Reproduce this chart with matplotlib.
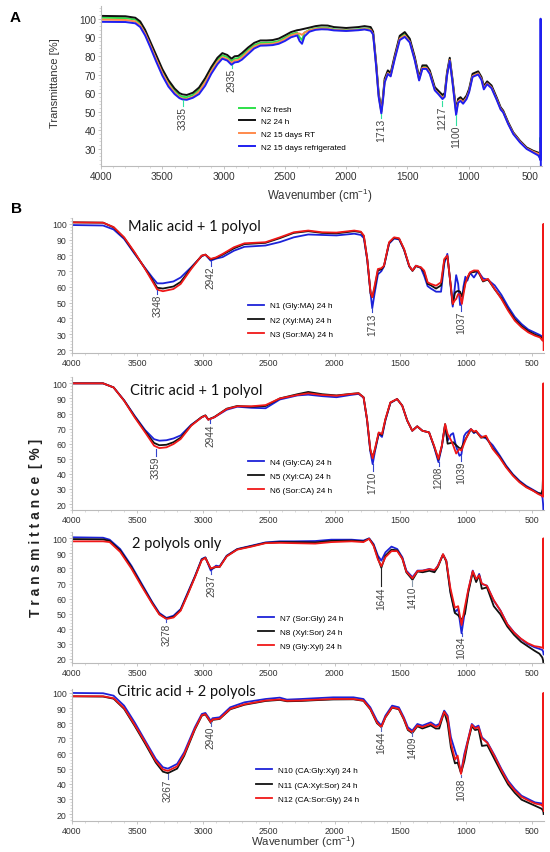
import matplotlib
matplotlib.use('Agg')
import matplotlib.pyplot as plt
from matplotlib.ticker import MultipleLocator

plt.rcParams['font.family'] = ['Liberation Sans', 'DejaVu Sans']
plt.rcParams['mathtext.default'] = 'regular'

# ---------------- panel A : N2 over time ----------------
wn_a = [4000, 3800, 3720, 3680, 3640, 3600, 3550, 3500, 3450, 3400,
        3360, 3335, 3300, 3250, 3200, 3150, 3100, 3050, 3010, 2970,
        2935, 2910, 2880, 2850, 2800, 2750, 2700, 2650, 2600, 2550,
        2500, 2450, 2400, 2380, 2360, 2340, 2300, 2250, 2200, 2150,
        2100, 2000, 1900, 1850, 1800, 1780, 1755, 1735, 1713, 1700,
        1686, 1660, 1637, 1604, 1563, 1522, 1481, 1440, 1405, 1378,
        1345, 1318, 1277, 1250, 1214, 1196, 1177, 1155, 1133, 1103,
        1087, 1067, 1046, 1018, 997, 969, 923, 896, 877, 850,
        814, 773, 740, 719, 678, 637, 582, 528, 474, 433,
        420, 416, 414, 412]
a_fresh = [100.5, 100.3, 99.5, 97.5, 93.0, 87.0, 79.3, 71.8, 65.8, 61.3,
           58.8, 58.0, 57.8, 59.0, 61.8, 66.8, 72.8, 77.8, 80.3, 79.3,
           77.2, 78.5, 78.8, 80.2, 83.3, 85.8, 87.0, 87.1, 87.3, 88.0,
           89.8, 91.6, 92.6, 90.0, 88.5, 92.5, 94.0, 94.8, 95.2, 95.1,
           94.3, 93.8, 94.3, 94.8, 94.3, 92.0, 75.0, 59.0, 50.0, 57.0,
           66.7, 71.2, 69.8, 79.2, 89.8, 91.7, 88.2, 78.4, 67.7, 74.0,
           74.0, 71.3, 62.3, 60.5, 58.0, 59.0, 70.4, 78.2, 66.8, 49.8,
           55.9, 56.9, 55.3, 57.8, 61.4, 69.5, 70.9, 67.8, 63.0, 65.5,
           63.3, 57.1, 51.8, 50.0, 43.8, 38.5, 34.0, 30.4, 28.6, 27.5,
           27.0, 36.0, 27.0, 26.5]
a_24h = [101.5, 101.3, 100.5, 98.5, 94.0, 88.0, 80.5, 73.0, 67.0, 62.5,
         60.0, 59.3, 59.0, 60.2, 63.0, 68.0, 74.0, 79.0, 81.5, 80.5,
         78.5, 79.8, 80.0, 81.5, 84.5, 87.0, 88.3, 88.3, 88.5, 89.3,
         91.0, 92.8, 93.8, 94.0, 94.3, 94.6, 95.2, 96.0, 96.4, 96.3,
         95.5, 95.0, 95.5, 96.0, 95.5, 93.0, 76.0, 60.0, 51.0, 58.0,
         67.7, 72.2, 70.8, 80.2, 90.8, 92.8, 89.2, 79.4, 68.6, 74.9,
         74.9, 72.2, 63.2, 61.4, 59.0, 60.0, 71.3, 79.0, 67.7, 50.8,
         56.9, 57.8, 56.2, 58.7, 62.3, 70.4, 71.7, 68.6, 63.8, 66.3,
         64.1, 57.8, 52.4, 50.6, 44.3, 38.9, 34.4, 30.8, 29.0, 28.0,
         27.5, 28.0, 27.5, 27.0]
a_rt = [99.5, 99.3, 98.5, 96.5, 92.0, 86.0, 78.3, 70.8, 64.8, 60.3,
        57.8, 57.0, 56.8, 58.0, 60.8, 65.8, 71.8, 76.8, 79.3, 78.3,
        76.2, 77.5, 77.8, 79.2, 82.3, 85.0, 86.2, 86.3, 86.5, 87.3,
        89.0, 91.0, 92.0, 92.0, 91.3, 92.5, 93.7, 94.5, 94.8, 94.7,
        94.0, 93.6, 94.0, 94.5, 94.0, 91.8, 74.8, 58.8, 49.8, 56.8,
        66.3, 70.8, 69.4, 78.8, 89.3, 91.0, 87.6, 78.0, 67.3, 73.6,
        73.6, 70.9, 61.8, 60.0, 57.5, 58.6, 70.0, 77.8, 66.5, 49.3,
        55.5, 56.5, 55.0, 57.5, 61.0, 69.2, 70.6, 67.5, 62.7, 65.2,
        63.0, 56.9, 51.6, 49.9, 43.6, 38.4, 33.9, 30.3, 28.5, 27.4,
        27.0, 33.0, 26.8, 26.3]
a_fridge = [98.3, 98.2, 97.5, 95.5, 91.0, 85.0, 77.0, 69.5, 63.5, 59.5,
            57.3, 56.6, 56.4, 57.5, 59.5, 64.0, 70.4, 75.5, 78.5, 77.5,
            75.2, 76.5, 76.8, 78.0, 81.0, 84.0, 85.5, 85.6, 85.8, 86.5,
            88.0, 90.0, 91.0, 88.0, 86.5, 90.5, 93.0, 94.0, 94.3, 94.2,
            93.7, 93.4, 93.8, 94.2, 93.5, 91.5, 74.0, 58.0, 49.0, 56.0,
            65.7, 70.3, 69.0, 78.2, 88.5, 90.2, 87.2, 77.5, 66.8, 73.0,
            73.0, 70.3, 61.5, 59.6, 56.8, 58.0, 69.5, 77.3, 66.0, 48.2,
            54.8, 55.8, 54.3, 56.8, 60.5, 68.7, 70.0, 67.0, 62.0, 64.8,
            62.6, 56.5, 51.2, 49.6, 43.3, 38.0, 33.5, 30.0, 28.0, 26.5,
            25.0, 24.0, 100.0, 20.0]
labels_a = ['N2 fresh', 'N2 24 h', 'N2 15 days RT', 'N2 15 days refrigerated']
peaks_a = [3335, 2935, 1713, 1217, 1100]
peak_top_a = [56.5, 75.0, 48.8, 56.0, 48.0]
peak_txt_a = [53.3, 73.5, 46.5, 53.3, 43.0]

# ---------------- panel B1 : malic acid + 1 polyol ----------------
wn_b1 = [4000, 3760, 3680, 3600, 3520, 3440, 3385, 3348, 3305, 3225,
         3170, 3090, 3010, 2982, 2942, 2900, 2850, 2765, 2685, 2525,
         2415, 2310, 2200, 2095, 1985, 1850, 1800, 1777, 1751, 1726,
         1713, 1695, 1670, 1644, 1624, 1585, 1547, 1509, 1471, 1432,
         1407, 1381, 1343, 1318, 1292, 1267, 1228, 1190, 1165, 1142,
         1119, 1101, 1085, 1075, 1060, 1045, 1032, 1020, 1005, 990,
         970, 940, 909, 871, 833, 782, 731, 680, 629, 578,
         527, 476, 438, 418, 414, 412, 410]
b1_n1 = [99.3, 99.0, 96.5, 90.5, 81.0, 72.0, 66.0, 62.3, 62.3, 63.5,
         66.0, 72.5, 79.5, 80.5, 76.7, 78.0, 79.0, 83.0, 85.5, 86.3,
         88.5, 91.5, 93.3, 93.0, 92.7, 93.8, 93.0, 91.0, 77.0, 56.0,
         46.5, 56.0, 68.0, 70.0, 73.0, 87.5, 90.7, 90.2, 83.5, 73.0,
         70.4, 73.5, 72.0, 67.0, 60.5, 59.0, 57.0, 57.0, 75.0, 81.0,
         62.0, 47.5, 60.0, 67.5, 62.0, 48.5, 50.0, 60.0, 66.5, 64.0,
         69.0, 66.0, 70.0, 65.5, 64.5, 61.0, 55.0, 47.5, 41.0, 36.5,
         33.0, 31.0, 29.5, 28.5, 28.5, 28.0, 27.5]
b1_n2 = [101.0, 100.8, 97.8, 91.2, 81.6, 71.6, 64.5, 59.5, 59.0, 60.3,
         63.2, 72.0, 79.8, 80.5, 77.5, 78.5, 80.5, 84.5, 87.2, 88.0,
         91.0, 94.3, 95.4, 94.3, 94.0, 95.4, 94.8, 92.2, 77.5, 56.0,
         53.5, 59.5, 70.5, 71.2, 73.2, 88.0, 91.2, 90.6, 83.8, 73.2,
         70.2, 73.2, 72.3, 69.5, 62.0, 61.0, 59.0, 61.0, 77.0, 79.5,
         63.0, 49.0, 56.0, 57.0, 57.5, 57.0, 54.0, 57.0, 63.0, 65.5,
         69.0, 69.5, 70.0, 63.5, 64.8, 58.5, 53.0, 45.8, 39.5, 35.2,
         32.0, 29.8, 28.5, 27.5, 28.0, 27.5, 26.0]
b1_n3 = [101.0, 100.8, 98.0, 91.5, 82.0, 71.4, 63.6, 58.3, 57.3, 58.7,
         61.9, 71.4, 79.9, 80.5, 77.8, 78.8, 81.0, 85.2, 87.7, 88.4,
         91.5, 94.7, 95.8, 94.7, 94.5, 95.8, 95.1, 92.6, 77.8, 56.6,
         53.5, 60.8, 71.4, 71.9, 73.5, 88.4, 91.5, 90.9, 84.1, 73.5,
         70.4, 73.5, 72.5, 70.4, 63.0, 61.9, 60.8, 63.0, 77.8, 79.9,
         63.0, 49.2, 51.5, 52.4, 55.5, 55.0, 49.2, 55.0, 62.0, 66.0,
         69.3, 70.5, 70.4, 64.0, 65.1, 58.7, 52.4, 45.0, 38.6, 34.4,
         31.2, 29.1, 28.0, 26.0, 27.0, 100.0, 20.0]
labels_b1 = ['N1 (Gly:MA) 24 h', 'N2 (Xyl:MA) 24 h', 'N3 (Sor:MA) 24 h']
peaks_b1 = [3348, 2942, 1713, 1037]
peak_top_b1 = [58.0, 76.7, 46.5, 48.5]
peak_txt_b1 = [55.6, 73.5, 44.0, 45.0]

# ---------------- panel B2 : citric acid + 1 polyol ----------------
wn_b2 = [4000, 3760, 3680, 3600, 3520, 3440, 3372, 3332, 3278, 3224,
         3170, 3090, 3010, 2982, 2960, 2914, 2820, 2740, 2632, 2524,
         2416, 2282, 2200, 2093, 1985, 1878, 1817, 1779, 1753, 1728,
         1710, 1690, 1664, 1639, 1613, 1575, 1524, 1485, 1447, 1409,
         1371, 1332, 1281, 1243, 1210, 1184, 1159, 1140, 1115, 1098,
         1075, 1050, 1035, 1015, 1001, 963, 940, 924, 886, 848,
         797, 746, 695, 644, 593, 542, 491, 452, 426, 418,
         414, 412, 410]
b2_n4 = [100.0, 100.0, 97.3, 88.8, 78.5, 69.0, 63.0, 62.0, 62.3, 63.5,
         65.5, 72.5, 77.5, 78.6, 76.0, 77.5, 82.5, 84.5, 83.8, 83.5,
         89.3, 92.0, 92.5, 91.5, 90.8, 92.3, 93.0, 90.5, 76.0, 55.0,
         46.5, 56.0, 66.5, 64.5, 75.5, 87.0, 89.6, 85.2, 75.3, 68.6,
         71.5, 68.6, 67.5, 58.0, 47.8, 58.0, 72.5, 62.0, 66.0, 67.0,
         58.0, 52.0, 53.0, 65.0, 67.0, 69.7, 67.0, 68.0, 65.0, 63.5,
         59.0, 52.5, 45.5, 39.8, 35.4, 32.0, 29.5, 27.5, 26.5, 24.0,
         20.0, 16.0, 15.0]
b2_n5 = [100.0, 100.0, 97.3, 88.6, 78.0, 68.2, 60.5, 59.0, 59.3, 61.0,
         64.0, 72.2, 77.7, 78.8, 76.0, 77.7, 83.2, 85.0, 84.5, 85.0,
         90.0, 92.8, 94.3, 92.8, 92.0, 93.0, 93.5, 90.8, 76.2, 55.8,
         51.0, 57.0, 67.0, 65.8, 76.0, 87.2, 89.6, 85.2, 75.3, 68.6,
         71.5, 68.6, 67.5, 58.3, 49.5, 58.5, 73.0, 60.0, 60.5, 61.0,
         59.0, 57.0, 57.0, 61.0, 63.5, 69.5, 67.5, 68.3, 64.0, 64.5,
         57.0, 51.5, 44.8, 39.3, 34.8, 31.5, 29.0, 27.2, 27.0, 30.0,
         40.0, 28.0, 27.0]
b2_n6 = [100.0, 100.0, 97.3, 88.5, 77.5, 67.5, 58.7, 57.1, 57.6, 59.8,
         63.1, 71.9, 77.5, 78.6, 75.9, 77.5, 83.0, 84.8, 84.8, 85.6,
         90.0, 92.3, 93.4, 92.3, 91.8, 92.9, 93.4, 90.7, 76.4, 56.5,
         50.3, 57.6, 67.5, 66.4, 76.4, 87.4, 89.6, 85.2, 75.3, 68.6,
         71.5, 68.6, 67.5, 58.7, 49.9, 58.7, 73.0, 66.5, 62.5, 59.0,
         53.5, 56.5, 55.4, 60.0, 63.1, 69.7, 68.0, 68.6, 64.2, 65.3,
         56.5, 51.0, 44.3, 38.8, 34.4, 31.1, 28.9, 26.7, 25.6, 25.0,
         25.5, 100.0, 25.0]
labels_b2 = ['N4 (Gly:CA) 24 h', 'N5 (Xyl:CA) 24 h', 'N6 (Sor:CA) 24 h']
peaks_b2 = [3359, 2944, 1710, 1208, 1039]
peak_top_b2 = [56.5, 76.0, 46.5, 48.0, 52.5]
peak_txt_b2 = [52.0, 73.7, 42.0, 45.4, 48.7]

# ---------------- panel B3 : 2 polyols only ----------------
wn_b3 = [4000, 3760, 3710, 3630, 3545, 3465, 3385, 3332, 3278, 3224,
         3170, 3115, 3060, 3010, 2982, 2941, 2901, 2874, 2820, 2740,
         2632, 2524, 2416, 2308, 2147, 2025, 1870, 1780, 1737, 1703,
         1670, 1644, 1613, 1567, 1523, 1484, 1454, 1407, 1369, 1330,
         1279, 1240, 1214, 1175, 1150, 1119, 1085, 1060, 1034, 1008,
         983, 949, 923, 900, 880, 841, 789, 738, 686, 635,
         583, 532, 480, 442, 420, 414, 412, 410]
b3_n7 = [100.7, 100.4, 99.1, 92.9, 81.9, 69.7, 57.6, 50.5, 47.2, 48.7,
         53.1, 64.2, 75.2, 86.3, 87.4, 78.6, 81.9, 81.4, 88.5, 92.9,
         95.1, 97.3, 98.0, 98.0, 98.2, 99.1, 99.1, 98.5, 100.0, 96.2,
         88.5, 85.2, 90.7, 94.5, 92.9, 87.4, 78.6, 74.2, 78.6, 78.6,
         79.7, 78.6, 81.9, 89.2, 85.2, 65.3, 51.0, 53.2, 37.0, 52.1,
         65.3, 78.6, 72.0, 76.4, 69.7, 68.6, 58.7, 52.1, 43.2, 37.7,
         33.3, 30.0, 27.8, 26.7, 26.0, 25.0, 24.0, 23.0]
b3_n8 = [99.5, 99.3, 98.3, 92.0, 81.0, 68.8, 57.0, 49.8, 46.8, 48.0,
         52.5, 63.5, 74.8, 85.8, 87.2, 79.8, 81.0, 81.0, 88.2, 92.7,
         94.8, 97.0, 97.5, 97.5, 97.3, 98.3, 98.5, 98.0, 99.8, 95.5,
         86.8, 80.5, 88.5, 92.5, 92.0, 86.5, 77.5, 72.5, 78.0, 77.5,
         78.5, 77.5, 81.0, 89.3, 84.5, 64.0, 50.5, 49.0, 46.0, 50.0,
         64.0, 77.5, 71.0, 75.5, 66.5, 67.5, 55.0, 49.5, 41.5, 36.0,
         31.5, 28.5, 25.5, 23.5, 21.0, 19.0, 17.0, 16.0]
b3_n9 = [98.0, 98.0, 97.5, 91.0, 80.0, 68.0, 56.5, 49.5, 46.5, 47.5,
         52.0, 63.0, 74.5, 85.5, 87.0, 80.0, 81.2, 81.0, 88.0, 92.5,
         94.5, 96.8, 97.0, 96.8, 96.5, 97.5, 98.0, 97.5, 99.7, 95.0,
         86.0, 81.5, 87.5, 91.5, 91.5, 86.5, 78.0, 73.5, 78.3, 78.5,
         79.5, 79.0, 81.5, 89.5, 85.0, 67.0, 54.0, 55.0, 42.5, 55.0,
         66.0, 78.3, 73.0, 75.5, 70.0, 68.5, 59.0, 52.0, 43.0, 37.5,
         33.5, 30.5, 28.5, 28.0, 27.5, 28.0, 100.0, 27.0]
labels_b3 = ['N7 (Sor:Gly) 24 h', 'N8 (Xyl:Sor) 24 h', 'N9 (Gly:Xyl) 24 h']
peaks_b3 = [3278, 2937, 1644, 1410, 1034]
peak_top_b3 = [46.5, 78.6, 81.0, 72.5, 37.0]
peak_txt_b3 = [44.3, 76.4, 68.2, 68.6, 35.5]

# ---------------- panel B4 : citric acid + 2 polyols ----------------
wn_b4 = [4000, 3760, 3680, 3600, 3520, 3440, 3359, 3305, 3267, 3197,
         3143, 3062, 3009, 2982, 2955, 2940, 2928, 2874, 2793, 2685,
         2524, 2416, 2362, 2255, 2147, 2010, 1856, 1780, 1728, 1677,
         1644, 1613, 1562, 1511, 1473, 1442, 1409, 1370, 1332, 1268,
         1230, 1204, 1166, 1140, 1115, 1084, 1064, 1038, 1013, 987,
         956, 931, 905, 879, 838, 782, 731, 680, 629, 578,
         527, 476, 425, 416, 412, 410]
b4_n10 = [100.0, 99.8, 98.2, 91.6, 80.6, 68.5, 56.4, 50.9, 50.0, 53.1,
          60.8, 77.3, 86.1, 86.8, 83.5, 81.5, 83.3, 83.9, 90.5, 93.8,
          96.0, 96.9, 95.6, 96.0, 96.5, 97.1, 97.1, 96.0, 90.5, 81.7,
          78.4, 85.0, 91.6, 90.5, 83.9, 77.3, 75.1, 79.5, 78.4, 80.6,
          78.4, 79.5, 88.3, 85.0, 70.7, 61.9, 56.4, 47.5, 59.7, 68.5,
          79.5, 77.3, 78.4, 70.7, 67.4, 58.6, 49.8, 42.0, 36.5, 32.1,
          29.9, 27.7, 27.0, 26.0, 25.0, 22.0]
b4_n11 = [97.8, 97.6, 96.2, 89.5, 78.3, 66.5, 54.0, 48.0, 47.0, 50.0,
          58.5, 75.8, 85.0, 85.8, 82.2, 80.2, 82.2, 82.8, 89.2, 92.2,
          94.7, 95.4, 94.5, 94.7, 95.2, 95.7, 95.8, 94.8, 89.2, 80.0,
          77.5, 83.8, 90.3, 89.2, 82.5, 75.5, 73.5, 78.0, 76.5, 78.5,
          76.5, 76.5, 87.5, 80.0, 64.0, 53.5, 54.0, 47.0, 55.0, 67.0,
          78.0, 75.5, 76.0, 65.0, 65.5, 56.0, 47.5, 39.5, 34.0, 29.5,
          27.5, 25.5, 23.5, 22.5, 21.5, 20.0]
b4_n12 = [97.8, 97.8, 96.5, 90.0, 79.0, 67.5, 55.0, 49.5, 48.5, 51.5,
          59.5, 76.3, 85.3, 86.0, 82.5, 80.5, 82.5, 83.0, 89.5, 92.5,
          95.0, 95.7, 94.8, 95.0, 95.5, 96.0, 96.0, 95.0, 89.5, 80.5,
          77.5, 84.0, 90.5, 89.5, 83.0, 76.0, 74.0, 78.5, 77.5, 79.5,
          77.5, 78.5, 87.5, 84.0, 67.0, 56.0, 58.6, 46.5, 58.0, 68.0,
          79.0, 76.5, 77.5, 70.0, 67.0, 58.0, 49.0, 41.0, 35.5, 31.3,
          29.0, 27.0, 26.0, 25.0, 100.0, 22.0]
labels_b4 = ['N10 (CA:Gly:Xyl) 24 h', 'N11 (CA:Xyl:Sor) 24 h', 'N12 (CA:Sor:Gly) 24 h']
peaks_b4 = [3267, 2940, 1644, 1409, 1038]
peak_top_b4 = [46.5, 80.6, 77.3, 74.0, 45.8]
peak_txt_b4 = [43.1, 78.4, 75.0, 71.8, 44.2]

xticks = [4000, 3500, 3000, 2500, 2000, 1500, 1000, 500]
col_a = ['#2ee04a', '#111111', '#ff8a4c', '#1f1ff0']
col_b = ['#1c22d8', '#111111', '#f01818']


def style_axes(ax, xlim, ylim, yticks, tick_size):
    ax.set_xlim(*xlim)
    ax.set_ylim(*ylim)
    ax.set_xticks(xticks)
    ax.xaxis.set_minor_locator(MultipleLocator(100))
    ax.set_yticks(yticks)
    ax.yaxis.set_minor_locator(MultipleLocator(2))
    for s in ['top', 'right']:
        ax.spines[s].set_visible(False)
    for s in ['left', 'bottom']:
        ax.spines[s].set_color('#bbbbbb')
        ax.spines[s].set_linewidth(0.8)
    ax.tick_params(labelsize=tick_size, color='#bbbbbb', labelcolor='#333333',
                   length=2.0, width=0.6, pad=1.5)
    ax.tick_params(which='minor', color='#cccccc', length=1.2, width=0.5)


def mark_peaks(ax, wns, tops, bottoms, colors, size):
    for w, t, b, c in zip(wns, tops, bottoms, colors):
        ax.plot([w, w], [t, b], color=c, lw=0.8, zorder=4)
        ax.text(w, b, str(w), rotation=90, ha='center', va='top',
                fontsize=size, color='#444444', zorder=5)


fig = plt.figure(figsize=(5.5, 8.53), dpi=100)

# ---- A ----
ax_a = fig.add_axes([0.1836, 0.8046, 0.8013, 0.1876])
for ys, c, lab in zip([a_fresh, a_24h, a_rt, a_fridge], col_a, labels_a):
    ax_a.plot(wn_a, ys, color=c, lw=1.4, label=lab)
style_axes(ax_a, (4000, 405), (21, 107), range(30, 101, 10), 7.3)
mark_peaks(ax_a, peaks_a, peak_top_a, peak_txt_a, ['#30e0a0'] * 5, 7.5)
ax_a.legend(loc='upper left', bbox_to_anchor=(0.313, 0.38), frameon=False,
            fontsize=5.9, handlelength=2.0, handletextpad=0.7,
            labelspacing=0.6, borderpad=0, borderaxespad=0)
ax_a.set_ylabel('Transmittance [%]', fontsize=8, color='#333333')
ax_a.yaxis.set_label_coords(-0.092, 0.52)
ax_a.set_xlabel('Wavenumber (cm$^{-1}$)', fontsize=8.3, color='#333333')
ax_a.xaxis.set_label_coords(0.497, -0.125)

# ---- B panels ----
panels_b = [
    (0.5848, 0.1589, (18, 104), wn_b1, [b1_n1, b1_n2, b1_n3], labels_b1,
     peaks_b1, peak_top_b1, peak_txt_b1, ['#3344cc'] * 4,
     'Malic acid + 1 polyol', 3574, 98.5, (0.374, 0.38)),
    (0.4008, 0.1557, (16, 104), wn_b2, [b2_n4, b2_n5, b2_n6], labels_b2,
     peaks_b2, peak_top_b2, peak_txt_b2, ['#3344cc'] * 5,
     'Citric acid + 1 polyol', 3553, 95.8, (0.374, 0.394)),
    (0.2210, 0.1538, (17, 104), wn_b3, [b3_n7, b3_n8, b3_n9], labels_b3,
     peaks_b3, peak_top_b3, peak_txt_b3,
     ['#4455cc', '#4455cc', '#222222', '#8899aa', '#4455cc'],
     '2 polyols only', 3539, 96.7, (0.394, 0.377)),
    (0.0367, 0.1542, (15.6, 102.5), wn_b4, [b4_n10, b4_n11, b4_n12], labels_b4,
     peaks_b4, peak_top_b4, peak_txt_b4, ['#5566bb'] * 5,
     'Citric acid + 2 polyols', 3655, 101.5, (0.391, 0.412)),
]

axes_b = []
for (bottom, height, ylim, wn, series, labs, pk, pk_top, pk_txt, pk_col,
     title, tx, ty, leg_pos) in panels_b:
    ax = fig.add_axes([0.13, bottom, 0.8584, height])
    for ys, c, lab in zip(series, col_b, labs):
        ax.plot(wn, ys, color=c, lw=1.3, label=lab)
    style_axes(ax, (4000, 410), ylim, range(20, 101, 10), 6.3)
    mark_peaks(ax, pk, pk_top, pk_txt, pk_col, 7.2)
    ax.text(tx, ty, title, fontsize=10.5, ha='left', va='center',
            color='#111111', family=['Lato', 'DejaVu Sans'])
    ax.legend(loc='upper left', bbox_to_anchor=leg_pos, frameon=False,
              fontsize=5.9, handlelength=2.0, handletextpad=0.7,
              labelspacing=0.8, borderpad=0, borderaxespad=0)
    axes_b.append(ax)

axes_b[-1].set_xlabel('Wavenumber (cm$^{-1}$)', fontsize=8.2, color='#333333')
axes_b[-1].xaxis.set_label_coords(0.49, -0.098)

fig.text(10 / 550, 1 - 18 / 853, 'A', fontsize=11, weight='bold', va='center')
fig.text(11 / 550, 1 - 209 / 853, 'B', fontsize=11, weight='bold', va='center')
fig.text(0.066, 0.381, 'T r a n s m i t t a n c e  [ % ]', rotation=90,
         fontsize=10, weight='bold', ha='center', va='center', color='#222222')

fig.savefig('out.png', dpi=100)
